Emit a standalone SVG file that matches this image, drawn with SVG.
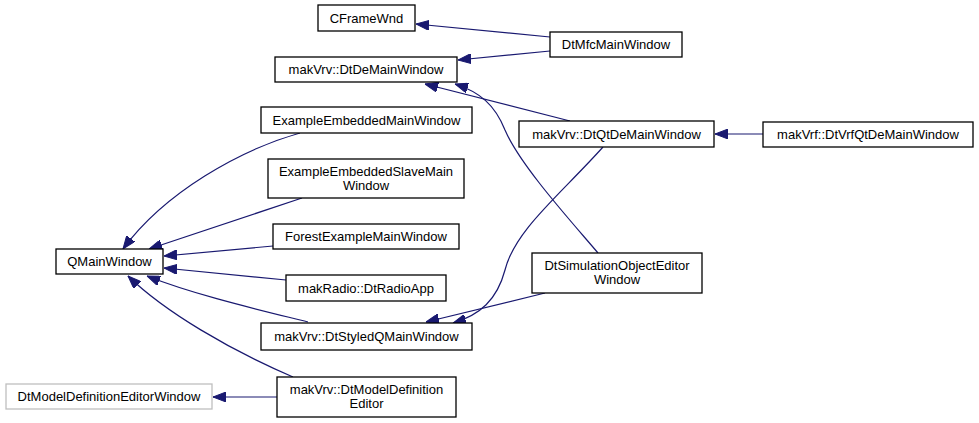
<svg xmlns="http://www.w3.org/2000/svg" width="979" height="423" viewBox="0 0 979 423">
<style>
.n rect{fill:#fff;stroke:#000;stroke-width:1.3}
.g rect{stroke:#bfbfbf}
text{font-family:"Liberation Sans",Arial,sans-serif;font-size:13px;fill:#000;text-anchor:middle}
.e path{fill:none;stroke:#191970;stroke-width:1.2;marker-end:url(#ah)}
</style>
<defs>
<marker id="ah" viewBox="0 0 13 10" refX="13" refY="5" markerWidth="13" markerHeight="10" orient="auto" markerUnits="userSpaceOnUse">
<path d="M0,0 L13,5 L0,10 z" fill="#191970" stroke="#191970"/>
</marker>
</defs>
<rect width="979" height="423" fill="#fff"/>
<g class="e" id="edges">
<path d="M550,37 L416,24"/>
<path d="M550,51 L458,60"/>
<path d="M570,121 L425,84"/>
<path d="M598,253 C570,220 520,165 505,130 C495,105 480,92 455,84"/>
<path d="M763,134 L715,134"/>
<path d="M300,133 C240,150 165,192 123,249"/>
<path d="M302,198 L149,249"/>
<path d="M273,246 L164,256"/>
<path d="M286,280 L164,268"/>
<path d="M308,322 C260,310 195,295 147,276"/>
<path d="M293,377 C230,350 165,312 128,276"/>
<path d="M277,397 L213,397"/>
<path d="M603,147 C560,195 515,230 505,270 C497,300 480,315 453,323"/>
<path d="M545,293 L426,322"/>
</g>
<g class="n" id="CFrameWnd"><rect x="318" y="5" width="97" height="26"/><text x="366.5" y="22.5">CFrameWnd</text></g>
<g class="n" id="DtMfcMainWindow"><rect x="550" y="32" width="132" height="25"/><text x="616" y="49">DtMfcMainWindow</text></g>
<g class="n" id="DtDeMainWindow"><rect x="275" y="57" width="182" height="25"/><text x="366" y="74">makVrv::DtDeMainWindow</text></g>
<g class="n" id="ExampleEmbeddedMainWindow"><rect x="261" y="107" width="211" height="26"/><text x="366.5" y="124.5">ExampleEmbeddedMainWindow</text></g>
<g class="n" id="DtQtDeMainWindow"><rect x="519" y="121" width="195" height="26"/><text x="616.5" y="138.5">makVrv::DtQtDeMainWindow</text></g>
<g class="n" id="DtVrfQtDeMainWindow"><rect x="763" y="122" width="210" height="25"/><text x="868" y="139">makVrf::DtVrfQtDeMainWindow</text></g>
<g class="n" id="ExampleEmbeddedSlaveMainWindow"><rect x="268" y="159" width="196" height="39"/><text x="366" y="175.5">ExampleEmbeddedSlaveMain</text><text x="366" y="189.5">Window</text></g>
<g class="n" id="ForestExampleMainWindow"><rect x="273" y="224" width="186" height="25"/><text x="366" y="241">ForestExampleMainWindow</text></g>
<g class="n" id="QMainWindow"><rect x="56" y="249" width="107" height="25"/><text x="109.5" y="266">QMainWindow</text></g>
<g class="n" id="DtSimulationObjectEditorWindow"><rect x="532" y="253" width="170" height="40"/><text x="617" y="270">DtSimulationObjectEditor</text><text x="617" y="284">Window</text></g>
<g class="n" id="DtRadioApp"><rect x="286" y="275" width="160" height="26"/><text x="366" y="292.5">makRadio::DtRadioApp</text></g>
<g class="n" id="DtStyledQMainWindow"><rect x="261" y="323" width="211" height="27"/><text x="366.5" y="341">makVrv::DtStyledQMainWindow</text></g>
<g class="n g" id="DtModelDefinitionEditorWindow"><rect x="6" y="384" width="206" height="25"/><text x="109" y="401">DtModelDefinitionEditorWindow</text></g>
<g class="n" id="DtModelDefinitionEditor"><rect x="277" y="377" width="179" height="40"/><text x="366.5" y="393.5">makVrv::DtModelDefinition</text><text x="366.5" y="408">Editor</text></g>
</svg>
